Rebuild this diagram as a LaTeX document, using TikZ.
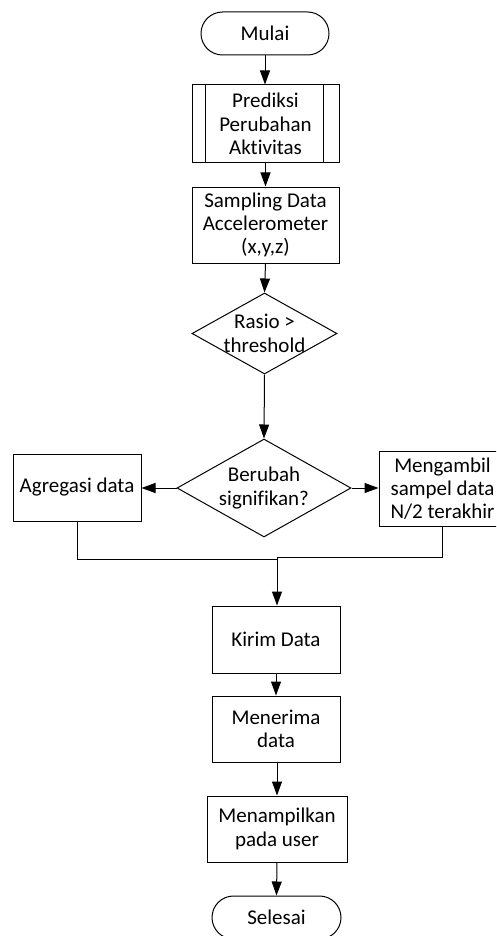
\documentclass[tikz,border=0pt]{standalone}
\usepackage{fontspec}
\setmainfont{Carlito}[Ligatures={NoCommon,NoContextual}]
\usetikzlibrary{arrows.meta,shapes.geometric,shapes.misc}
\tikzset{
  every node/.style={font=\fontsize{21}{23.3}\selectfont, align=center, inner sep=0pt},
  box/.style={draw, line width=1pt, rectangle},
  term/.style={draw, line width=1pt, rounded rectangle},
  dec/.style={draw, line width=1pt, diamond},
  conn/.style={line width=1pt, -{Triangle[length=14pt,width=10pt]}},
  plain/.style={line width=1pt}
}
\begin{document}
\begin{tikzpicture}[x=1pt,y=-1pt]
\useasboundingbox (0,0) rectangle (496,936);
\clip (0,0) rectangle (496,936);
\node[term, minimum width=128pt, minimum height=43pt] (start) at (265,33.5) {Mulai};
\node[box, minimum width=147pt, minimum height=78pt] (pred) at (265.5,124) {Prediksi\\Perubahan\\Aktivitas};
\draw[plain] ([xshift=14pt]pred.north west) -- ([xshift=14pt]pred.south west);
\draw[plain] ([xshift=-16pt]pred.north east) -- ([xshift=-16pt]pred.south east);
\node[box, minimum width=147pt, minimum height=76pt] (samp) at (265.5,225) {Sampling Data\\Accelerometer\\(x,y,z)};
\node[dec, minimum width=145pt, minimum height=81pt] (rasio) at (264.5,333.5) {};
\node (rasiot) at (rasio.center) {Rasio >\\threshold};
\node[dec, minimum width=174pt, minimum height=98pt] (ber) at (264,488) {};
\node (bert) at (ber.center) {Berubah\\signifikan?};
\node[box, minimum width=128pt, minimum height=67pt] (agg) at (77,487.5) {Agregasi data};
\node[box, minimum width=127pt, minimum height=75pt] (ambil) at (442.5,488.5) {Mengambil\\sampel data\\N/2 terakhir};
\node[box, minimum width=128pt, minimum height=67pt] (kirim) at (276,639.5) {Kirim Data};
\node[box, minimum width=128pt, minimum height=66pt] (terima) at (276,729) {Menerima\\data};
\node[box, minimum width=140pt, minimum height=66pt] (tampil) at (277,829) {Menampilkan\\pada user};
\node[term, minimum width=129pt, minimum height=43pt] (selesai) at (276.5,917.5) {Selesai};
\coordinate (jr) at (277,557);
\coordinate (jl) at (277,559);
\draw[conn] (start.south) -- (start.south |- pred.north);
\draw[conn] (pred.south) -- (samp.north);
\draw[conn] (samp.south) -- (rasio.north);
\draw[conn] (rasio.south) -- (ber.north);
\draw[conn] (ber.west) -- (agg.east |- ber.west);
\draw[conn] (ber.east) -- (ambil.west |- ber.east);
\draw[plain] (agg.south) |- (jl);
\draw[plain] (ambil.south) |- (jr);
\draw[conn] (jr) -- (jr |- kirim.north);
\draw[conn] (terima.north |- kirim.south) -- (terima.north);
\draw[conn] (tampil.north |- terima.south) -- (tampil.north);
\draw[conn] (tampil.south) -- (selesai.north);
\end{tikzpicture}
\end{document}
